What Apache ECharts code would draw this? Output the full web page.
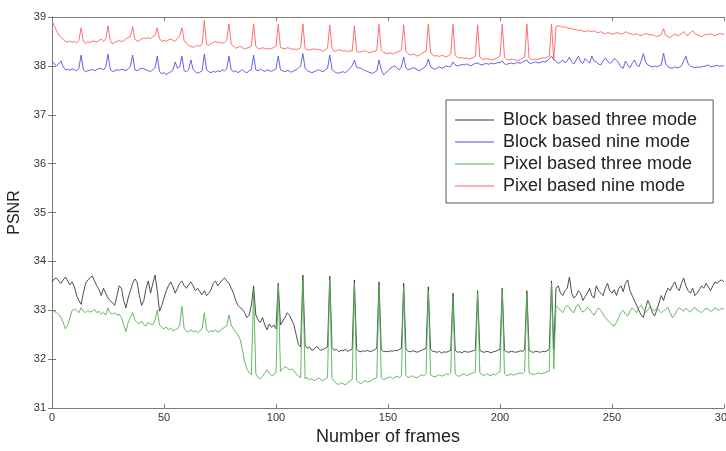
<!DOCTYPE html>
<html>
<head>
<meta charset="utf-8">
<title>PSNR per frame</title>
<script src="https://cdn.jsdelivr.net/npm/echarts@6/dist/echarts.min.js"></script>
<style>
  html, body { margin: 0; padding: 0; background: #fff; }
  #chart { width: 726px; height: 451px; }
</style>
</head>
<body>
<div id="chart"></div>
<script>
// series names (legend order)
var seriesNames = ['Block based three mode', 'Block based nine mode', 'Pixel based three mode', 'Pixel based nine mode'];
var xTicks = [0, 50, 100, 150, 200, 250, 300];
var yTicks = [31, 32, 33, 34, 35, 36, 37, 38, 39];

// PSNR per frame, frames 0..300
var blockThree = [
  33.58,33.64,33.66,33.60,33.55,33.62,33.68,33.60,33.52,33.58,
  33.48,33.30,33.20,33.12,33.35,33.55,33.62,33.66,33.70,33.60,
  33.50,33.42,33.30,33.45,33.35,33.25,33.20,33.15,33.10,33.30,
  33.50,33.45,33.20,33.05,33.25,33.40,33.55,33.64,33.58,33.30,
  33.10,33.20,33.45,33.60,33.35,33.55,33.72,33.40,32.98,33.10,
  33.25,33.40,33.50,33.58,33.48,33.35,33.45,33.55,33.60,33.50,
  33.45,33.52,33.58,33.50,33.40,33.45,33.38,33.32,33.40,33.30,
  33.35,33.42,33.55,33.60,33.50,33.56,33.62,33.66,33.60,33.55,
  33.45,33.35,33.20,33.10,33.05,33.02,32.95,32.85,32.90,33.10,
  33.50,32.90,32.80,32.75,32.85,32.70,32.60,32.72,32.65,32.70,
  32.62,33.55,32.70,32.78,32.85,32.95,32.90,32.80,32.70,32.50,
  32.30,32.25,33.72,32.28,32.22,32.25,32.18,32.20,32.26,32.22,
  32.18,32.20,32.22,32.25,33.70,32.24,32.18,32.20,32.15,32.18,
  32.17,32.20,32.16,32.18,32.20,33.62,32.20,32.16,32.15,32.17,
  32.16,32.18,32.15,32.17,32.19,32.22,33.58,32.20,32.15,32.16,
  32.15,32.17,32.16,32.18,32.17,32.20,32.22,33.55,32.20,32.16,
  32.15,32.17,32.16,32.14,32.16,32.18,32.20,32.22,33.48,32.20,
  32.16,32.15,32.14,32.16,32.12,32.15,32.14,32.16,32.18,33.35,
  32.18,32.14,32.15,32.13,32.16,32.15,32.14,32.16,32.17,32.19,
  33.40,32.18,32.15,32.14,32.16,32.15,32.13,32.15,32.16,32.18,
  32.20,33.45,32.18,32.15,32.14,32.16,32.15,32.14,32.15,32.17,
  32.16,32.19,33.40,32.18,32.15,32.14,32.16,32.15,32.14,32.16,
  32.15,32.17,32.20,33.60,32.20,33.45,33.50,33.35,33.30,33.40,
  33.45,33.68,33.35,33.25,33.30,33.40,33.35,33.20,33.28,33.35,
  33.45,33.30,33.25,33.50,33.40,33.35,33.30,33.45,33.55,33.40,
  33.35,33.42,33.30,33.45,33.50,33.38,33.55,33.62,33.40,33.30,
  33.20,33.10,33.00,32.90,32.85,33.05,33.20,33.10,32.95,32.88,
  33.00,33.15,33.30,33.20,33.35,33.45,33.40,33.50,33.58,33.45,
  33.40,33.55,33.66,33.50,33.40,33.35,33.45,33.30,33.35,33.42,
  33.50,33.45,33.55,33.48,33.40,33.50,33.58,33.55,33.60,33.62,
  33.58
];
var blockNine = [
  38.10,38.05,38.00,38.04,38.10,37.98,37.92,37.93,37.91,37.94,
  37.92,37.90,37.95,38.22,37.92,37.88,37.90,37.91,37.93,37.90,
  37.92,37.95,37.94,37.92,37.98,38.24,37.93,37.88,37.90,37.92,
  37.91,37.93,37.92,37.90,37.94,37.98,38.22,37.92,37.90,37.93,
  37.95,37.94,37.92,37.90,37.88,37.92,37.96,38.20,37.88,37.84,
  37.86,37.82,37.85,37.88,37.92,38.08,37.95,37.98,38.20,37.90,
  37.88,37.92,38.12,37.93,37.88,37.85,37.87,37.90,38.24,37.92,
  37.88,37.86,37.89,37.87,37.90,37.88,37.92,37.90,37.94,38.20,
  37.92,37.88,37.90,37.86,37.89,37.92,37.88,37.86,37.90,37.92,
  38.22,37.92,37.90,37.93,37.91,37.88,37.92,37.90,37.89,37.91,
  37.94,38.20,37.92,37.90,37.88,37.91,37.89,37.87,37.90,37.92,
  37.95,38.00,38.25,37.95,37.90,37.88,37.86,37.88,37.90,37.92,
  37.90,37.88,37.92,37.95,38.22,37.93,37.88,37.86,37.85,37.87,
  37.88,37.86,37.90,37.95,38.00,38.12,37.97,37.96,37.95,37.92,
  37.90,37.88,37.86,37.85,37.87,37.90,38.12,37.92,37.82,37.86,
  37.90,37.95,37.98,38.00,37.96,37.92,37.98,38.18,37.96,37.92,
  37.94,37.96,37.95,37.92,37.90,37.93,37.96,38.00,38.14,37.98,
  37.95,37.93,37.96,37.98,37.95,37.97,38.00,37.98,37.99,38.08,
  38.02,38.00,38.01,38.03,38.02,38.04,38.02,38.00,38.03,38.05,
  38.06,38.03,38.02,38.04,38.05,38.03,38.06,38.04,38.05,38.07,
  38.06,38.10,38.04,38.03,38.05,38.06,38.04,38.06,38.07,38.05,
  38.08,38.10,38.12,38.06,38.05,38.07,38.08,38.06,38.07,38.09,
  38.08,38.10,38.15,38.20,38.12,38.10,38.05,38.08,38.12,38.06,
  38.10,38.18,38.08,38.04,38.12,38.20,38.08,38.05,38.15,38.10,
  38.06,38.20,38.10,38.08,38.04,38.02,38.10,38.16,38.10,38.05,
  38.08,38.15,38.12,38.06,37.98,37.95,38.10,38.02,37.96,38.05,
  38.12,38.02,37.98,38.10,38.25,38.08,38.02,38.00,37.98,38.00,
  37.98,38.00,38.02,38.26,38.04,37.98,37.96,37.95,37.98,37.96,
  37.97,38.00,38.10,38.20,38.04,38.00,37.98,37.96,37.98,37.97,
  37.98,37.99,38.00,38.02,37.98,37.99,38.00,38.01,37.99,38.00,
  38.00
];
var pixelThree = [
  33.00,32.98,32.95,32.92,32.85,32.75,32.62,32.70,32.85,33.00,
  33.02,33.00,32.95,33.05,32.98,32.95,33.00,32.96,32.98,33.02,
  32.95,32.98,32.92,32.96,32.90,33.05,32.94,32.92,32.95,32.90,
  32.92,32.85,32.70,32.56,32.75,32.85,32.95,32.80,32.75,32.72,
  32.78,32.70,32.68,32.75,32.72,32.70,32.80,33.00,32.70,32.65,
  32.62,32.66,32.60,32.64,32.58,32.60,32.62,32.70,33.08,32.62,
  32.58,32.55,32.60,32.56,32.58,32.54,32.58,32.62,32.95,32.60,
  32.55,32.58,32.56,32.60,32.55,32.58,32.62,32.65,32.68,32.90,
  32.70,32.62,32.55,32.50,32.40,32.20,31.95,31.80,31.72,31.68,
  33.40,31.70,31.62,31.60,31.65,31.72,31.78,31.70,31.66,31.68,
  31.72,33.50,31.75,31.80,31.85,31.82,31.78,31.80,31.76,31.70,
  31.65,31.62,33.65,31.60,31.62,31.58,31.60,31.56,31.58,31.62,
  31.58,31.56,31.60,31.62,33.62,31.60,31.55,31.50,31.48,31.52,
  31.50,31.47,31.52,31.55,31.58,33.55,31.56,31.52,31.50,31.54,
  31.56,31.53,31.55,31.58,31.60,31.62,33.50,31.62,31.58,31.60,
  31.62,31.64,31.60,31.63,31.65,31.62,31.66,33.48,31.66,31.62,
  31.64,31.66,31.63,31.62,31.65,31.68,31.66,31.70,33.40,31.68,
  31.65,31.64,31.66,31.68,31.65,31.67,31.70,31.68,31.72,33.28,
  31.70,31.66,31.65,31.68,31.70,31.66,31.68,31.70,31.72,31.74,
  33.35,31.72,31.68,31.66,31.70,31.68,31.66,31.70,31.68,31.72,
  31.74,33.40,31.70,31.66,31.68,31.70,31.67,31.69,31.70,31.72,
  31.70,31.74,33.35,31.72,31.70,31.68,31.70,31.72,31.70,31.71,
  31.72,31.74,31.76,33.55,31.80,33.10,33.05,33.00,32.95,33.05,
  33.10,33.05,32.98,32.95,33.08,33.12,33.02,32.96,33.00,33.06,
  33.02,32.95,32.90,32.98,33.05,33.00,32.92,32.85,32.80,32.75,
  32.70,32.68,32.75,32.85,32.95,33.00,32.92,32.88,32.98,33.05,
  33.00,32.95,33.05,33.10,33.02,32.96,33.00,33.08,33.02,32.98,
  33.05,33.00,32.95,32.98,33.02,33.06,32.94,32.85,32.90,33.00,
  33.05,33.02,32.98,33.04,33.00,32.96,33.02,33.06,33.00,32.98,
  32.95,33.00,33.04,33.02,32.98,33.00,33.05,33.02,33.00,33.04,
  33.02
];
var pixelNine = [
  38.92,38.82,38.72,38.64,38.58,38.54,38.50,38.49,38.51,38.48,
  38.50,38.47,38.52,38.78,38.50,38.46,38.49,38.48,38.51,38.50,
  38.49,38.52,38.55,38.50,38.56,38.82,38.52,38.45,38.48,38.50,
  38.52,38.50,38.51,38.55,38.58,38.60,38.80,38.55,38.50,38.52,
  38.55,38.57,38.56,38.58,38.55,38.60,38.62,38.78,38.56,38.50,
  38.52,38.50,38.53,38.55,38.52,38.50,38.56,38.62,38.78,38.52,
  38.46,38.42,38.40,38.38,38.40,38.42,38.40,38.44,38.93,38.44,
  38.42,38.45,38.48,38.50,38.47,38.49,38.46,38.48,38.52,38.86,
  38.45,38.40,38.36,38.38,38.40,38.37,38.35,38.36,38.38,38.40,
  38.86,38.40,38.36,38.35,38.37,38.36,38.34,38.36,38.35,38.38,
  38.40,38.85,38.38,38.36,38.35,38.37,38.36,38.34,38.35,38.33,
  38.35,38.37,38.86,38.35,38.33,38.32,38.34,38.35,38.33,38.34,
  38.32,38.30,38.33,38.36,38.84,38.35,38.30,38.31,38.33,38.32,
  38.30,38.31,38.29,38.31,38.30,38.82,38.30,38.28,38.29,38.30,
  38.31,38.28,38.27,38.29,38.30,38.32,38.85,38.32,38.28,38.26,
  38.25,38.27,38.24,38.26,38.28,38.30,38.33,38.84,38.30,38.25,
  38.22,38.24,38.23,38.20,38.22,38.25,38.28,38.30,38.86,38.28,
  38.22,38.20,38.21,38.19,38.22,38.20,38.18,38.21,38.24,38.85,
  38.22,38.18,38.16,38.17,38.15,38.16,38.14,38.15,38.17,38.20,
  38.84,38.18,38.14,38.13,38.15,38.14,38.12,38.13,38.15,38.17,
  38.20,38.85,38.18,38.13,38.12,38.14,38.13,38.12,38.11,38.13,
  38.15,38.18,38.86,38.16,38.12,38.13,38.14,38.13,38.15,38.16,
  38.16,38.18,38.20,38.85,38.12,38.80,38.82,38.81,38.79,38.80,
  38.78,38.77,38.76,38.75,38.74,38.72,38.73,38.71,38.70,38.72,
  38.71,38.70,38.72,38.69,38.68,38.70,38.67,38.66,38.68,38.67,
  38.65,38.66,38.68,38.67,38.65,38.66,38.70,38.68,38.66,38.65,
  38.64,38.66,38.63,38.62,38.64,38.66,38.65,38.63,38.64,38.62,
  38.60,38.62,38.64,38.76,38.62,38.60,38.58,38.62,38.65,38.63,
  38.62,38.66,38.70,38.64,38.62,38.68,38.72,38.66,38.64,38.62,
  38.60,38.62,38.65,38.64,38.66,38.63,38.62,38.64,38.66,38.65,
  38.64
];
var seriesColors = ['#3a3a3a', '#5050e6', '#55b055', '#ff6060'];

function toPairs(vals) {
    return vals.map(function (v, i) { return [i, v]; });
}

var chart = echarts.init(document.getElementById('chart'), null, { renderer: 'canvas' });
var allData = [blockThree, blockNine, pixelThree, pixelNine];
var series = [];
for (var k = 0; k < allData.length; k++) {
    series.push({
        name: seriesNames[k],
        type: 'line',
        data: toPairs(allData[k]),
        symbol: 'none',
        lineStyle: { width: 0.9, color: seriesColors[k] },
        itemStyle: { color: seriesColors[k] },
        xAxisIndex: 0,
        yAxisIndex: 0
    });
}

var tickFont = { color: '#333', fontSize: 11, fontFamily: 'Liberation Sans, Arial, sans-serif' };
var axisGray = '#7a7a7a';

var option = {
    animation: false,
    backgroundColor: '#fff',
    textStyle: { fontFamily: 'Liberation Sans, Arial, sans-serif' },
    grid: { left: 52, right: 2, top: 17, bottom: 43, outerBoundsMode: 'none', containLabel: false },
    legend: {
        data: seriesNames,
        orient: 'vertical',
        left: 446,
        top: 100,
        icon: 'rect',
        itemWidth: 39,
        itemHeight: 1.2,
        itemGap: 4,
        padding: [11, 16, 8, 9],
        borderColor: '#555',
        borderWidth: 1,
        backgroundColor: '#fff',
        textStyle: { fontSize: 18, color: '#222', lineHeight: 18, padding: [0, 0, 0, 4] }
    },
    xAxis: [{
        type: 'value', min: 0, max: 300, interval: 50,
        name: 'Number of frames', nameLocation: 'middle', nameGap: 20,
        nameTextStyle: { fontSize: 18, color: '#222' },
        axisLine: { lineStyle: { color: axisGray } },
        axisTick: { inside: true, length: 4, lineStyle: { color: axisGray } },
        axisLabel: Object.assign({ margin: 4, formatter: function (v) { return xTicks.indexOf(v) >= 0 ? String(v) : ''; } }, tickFont),
        splitLine: { show: false }
    }, {
        type: 'value', min: 0, max: 300, interval: 50, position: 'top',
        axisLine: { lineStyle: { color: axisGray } },
        axisTick: { inside: true, length: 4, lineStyle: { color: axisGray } },
        axisLabel: { show: false },
        splitLine: { show: false }
    }],
    yAxis: [{
        type: 'value', min: 31, max: 39, interval: 1,
        name: 'PSNR', nameLocation: 'middle', nameGap: 26, nameRotate: 90,
        nameTextStyle: { fontSize: 16, color: '#222' },
        axisLine: { show: true, lineStyle: { color: axisGray } },
        axisTick: { show: true, inside: true, length: 4, lineStyle: { color: axisGray } },
        axisLabel: Object.assign({ margin: 6, formatter: function (v) { return yTicks.indexOf(v) >= 0 ? String(v) : ''; } }, tickFont),
        splitLine: { show: false }
    }, {
        type: 'value', min: 31, max: 39, interval: 1, position: 'right',
        axisLine: { show: true, lineStyle: { color: axisGray } },
        axisTick: { show: true, inside: true, length: 4, lineStyle: { color: axisGray } },
        axisLabel: { show: false },
        splitLine: { show: false }
    }],
    series: series
};
chart.setOption(option);
</script>
</body>
</html>
